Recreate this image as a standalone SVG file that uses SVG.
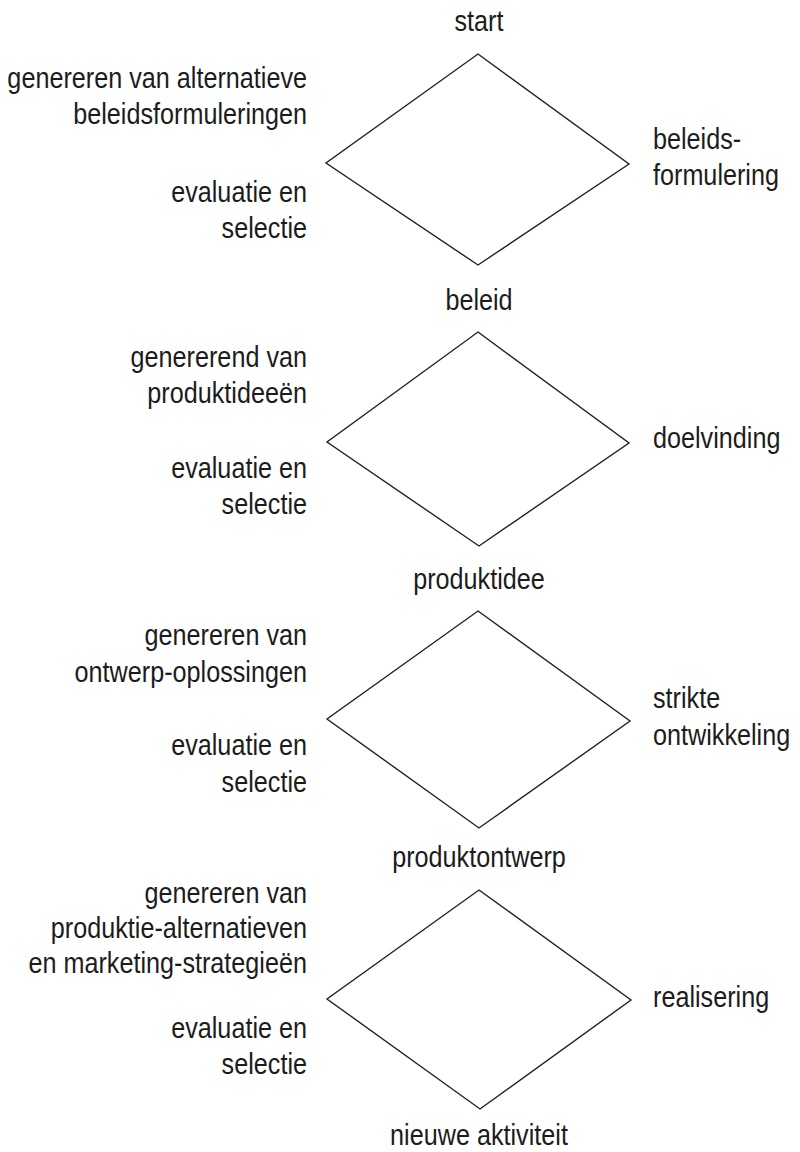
<svg xmlns="http://www.w3.org/2000/svg" width="800" height="1152" viewBox="0 0 800 1152">
<style>
text{font-family:"Liberation Sans",Arial,sans-serif;font-size:30px;fill:#1c1c1c}
.l{text-anchor:end}
.c{text-anchor:middle}
.d{fill:#fff;stroke:#222;stroke-width:1.4;stroke-linejoin:miter}
</style>
<rect width="800" height="1152" fill="#fff"/>
<g id="connectors"></g>
<g id="node-start"><text class="c" transform="translate(479 31) scale(0.84 1)">start</text></g>
<g id="node-diamond1">
<polygon class="d" points="478,54 629,164 478,265 326,163"/>
<text class="l" transform="translate(307 88) scale(0.84 1)">genereren van alternatieve</text>
<text class="l" transform="translate(307 124) scale(0.84 1)">beleidsformuleringen</text>
<text class="l" transform="translate(307 202) scale(0.84 1)">evaluatie en</text>
<text class="l" transform="translate(307 238) scale(0.84 1)">selectie</text>
<text transform="translate(653 149) scale(0.84 1)">beleids-</text>
<text transform="translate(653 185) scale(0.84 1)">formulering</text>
</g>
<g id="node-beleid"><text class="c" transform="translate(479 310) scale(0.84 1)">beleid</text></g>
<g id="node-diamond2">
<polygon class="d" points="478,332 629,443 479,546 327,442"/>
<text class="l" transform="translate(307 367) scale(0.84 1)">genererend van</text>
<text class="l" transform="translate(307 403) scale(0.84 1)">produktideeën</text>
<text class="l" transform="translate(307 478) scale(0.84 1)">evaluatie en</text>
<text class="l" transform="translate(307 514) scale(0.84 1)">selectie</text>
<text transform="translate(653 448) scale(0.84 1)">doelvinding</text>
</g>
<g id="node-produktidee"><text class="c" transform="translate(479 589) scale(0.84 1)">produktidee</text></g>
<g id="node-diamond3">
<polygon class="d" points="478,611 630,721 479,828 327,719"/>
<text class="l" transform="translate(307 645) scale(0.84 1)">genereren van</text>
<text class="l" transform="translate(307 682) scale(0.84 1)">ontwerp-oplossingen</text>
<text class="l" transform="translate(307 755) scale(0.84 1)">evaluatie en</text>
<text class="l" transform="translate(307 792) scale(0.84 1)">selectie</text>
<text transform="translate(653 708) scale(0.84 1)">strikte</text>
<text transform="translate(653 745) scale(0.84 1)">ontwikkeling</text>
</g>
<g id="node-produktontwerp"><text class="c" transform="translate(479 867) scale(0.84 1)">produktontwerp</text></g>
<g id="node-diamond4">
<polygon class="d" points="479,890 631,1000 480,1109 327,999"/>
<text class="l" transform="translate(307 903) scale(0.84 1)">genereren van</text>
<text class="l" transform="translate(307 938) scale(0.84 1)">produktie-alternatieven</text>
<text class="l" transform="translate(307 973) scale(0.84 1)">en marketing-strategieën</text>
<text class="l" transform="translate(307 1038) scale(0.84 1)">evaluatie en</text>
<text class="l" transform="translate(307 1074) scale(0.84 1)">selectie</text>
<text transform="translate(653 1007) scale(0.84 1)">realisering</text>
</g>
<g id="node-nieuwe"><text class="c" transform="translate(479 1145) scale(0.84 1)">nieuwe aktiviteit</text></g>
</svg>
